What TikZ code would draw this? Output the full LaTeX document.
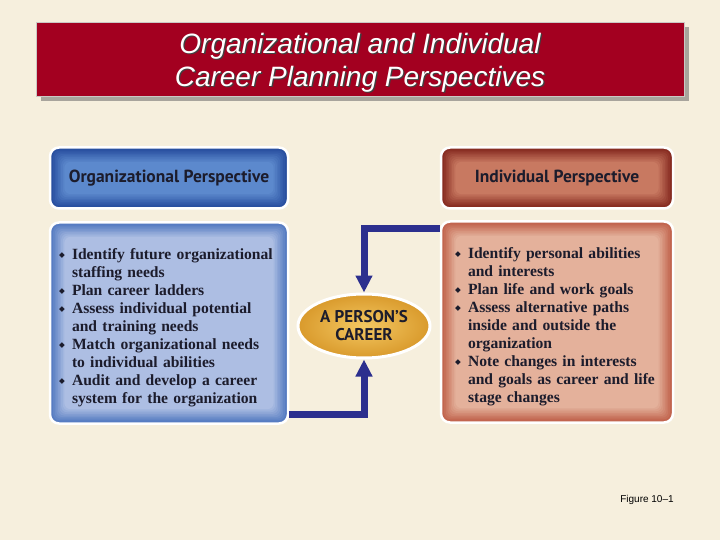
\documentclass[tikz,border=0pt]{standalone}
\usepackage{fontspec}
\setmainfont{Liberation Serif}
\setsansfont{Liberation Sans}
\newfontfamily\headfont{PT Sans}
\newfontfamily\symfont{DejaVu Sans}
\usetikzlibrary{shapes.geometric,arrows.meta,calc,shadows}

\definecolor{paper}{HTML}{F6EFDD}
\definecolor{titlered}{HTML}{A30020}
\definecolor{titleshade}{HTML}{A8A49C}
\definecolor{orgdark}{HTML}{23499B}
\definecolor{orglight}{HTML}{5D8ACD}
\definecolor{orgedge}{HTML}{4C74BE}
\definecolor{orgfill}{HTML}{AEBFE3}
\definecolor{inddark}{HTML}{80231A}
\definecolor{indlight}{HTML}{C97A62}
\definecolor{indedge}{HTML}{BE5C45}
\definecolor{indfill}{HTML}{E4B29C}
\definecolor{flowblue}{HTML}{2C2F8E}
\definecolor{goldin}{HTML}{F4C862}
\definecolor{goldout}{HTML}{D99A2C}
\definecolor{inktext}{HTML}{1C1C2C}

\newcommand{\pbul}{\makebox[13pt][l]{\raisebox{1.8pt}{\symfont\fontsize{7.5}{7.5}\selectfont ◆}}}
\newcommand{\pgap}{\hspace*{13pt}}
\newcommand{\headline}{Organizational and Individual\\Career Planning Perspectives}

\tikzset{
  glow/.style 2 args={fill=#1, draw=white, line width=2.5pt, rounded corners=9pt,
    path picture={
      \foreach \k [evaluate=\k as \p using int(\k*11)] in {1,...,9}
        \fill[#2!\p!#1, rounded corners=6pt]
          ($(path picture bounding box.north west)+(\k*1.6,\k*1.6)$)
          rectangle ($(path picture bounding box.south east)+(-\k*1.6,-\k*1.6)$);
    }},
  headbox/.style={minimum height=61pt, inner sep=0pt,
    font=\headfont\bfseries\fontsize{17.5}{20}\selectfont, text=inktext},
  bodybox/.style={minimum height=201pt, align=left,
    font=\bfseries\fontsize{15.6}{18}\selectfont, text=inktext},
  career/.style={ellipse, minimum width=132pt, minimum height=64pt, inner sep=0pt,
    draw=white, line width=3pt, inner color=goldin, outer color=goldout,
    align=center, font=\headfont\bfseries\fontsize{17}{18}\selectfont, text=inktext},
  careerflow/.style={draw=flowblue, line width=7pt,
    -{Triangle[length=17pt,width=16pt]}},
  titlebox/.style={fill=titlered, draw=titleshade!60, line width=0.8pt,
    minimum width=648pt, minimum height=74pt,
    general shadow={fill=titleshade, shadow xshift=5pt, shadow yshift=-5pt}},
  titletext/.style={align=center, font=\sffamily\itshape\fontsize{28}{33}\selectfont}
}

\begin{document}
\begin{tikzpicture}[x=1pt,y=-1pt]
%\draw[help lines] (0,0) grid[step=20] (720,540);
\useasboundingbox (0,0) rectangle (720,540);
\fill[paper] (0,0) rectangle (720,540);

% title bar
\node[titlebox] (title) at (360,59) {};
\node[titletext, text=black!75] (titleshadow) at (361.3,63.8) {\headline};
\node[titletext, text=white] (titlelabel) at (360,62.5) {\headline};

% two perspectives
\node[headbox, glow={orgdark}{orglight}, minimum width=238pt] (orghead) at (169,178) {Organizational Perspective};
\node[headbox, glow={inddark}{indlight}, minimum width=232pt] (indhead) at (557,178) {Individual Perspective};

\node[bodybox, glow={orgedge}{orgfill}, minimum width=238pt, inner xsep=9pt, text width=220pt] (orgbody) at (169,323)
  {\rule{0pt}{20pt}\pbul Identify future organizational\\
   \pgap staffing needs\\
   \pbul Plan career ladders\\
   \pbul Assess individual potential\\
   \pgap and training needs\\
   \pbul Match organizational needs\\
   \pgap to individual abilities\\
   \pbul Audit and develop a career\\
   \pgap system for the organization};
\node[bodybox, glow={indedge}{indfill}, minimum width=232pt, inner xsep=14pt, text width=204pt] (indbody) at (557,322)
  {\rule{0pt}{20pt}\pbul Identify personal abilities\\
   \pgap and interests\\
   \pbul Plan life and work goals\\
   \pbul Assess alternative paths\\
   \pgap inside and outside the\\
   \pgap organization\\
   \pbul Note changes in interests\\
   \pgap and goals as career and life\\
   \pgap stage changes};

\node[career] (career) at (364,326) {A PERSON’S\\CAREER};

\draw[careerflow] ($(indbody.north west)+(0,8)$) -| (career.north);
\draw[careerflow] ($(orgbody.south east)+(0,-10)$) -| (career.south);

\node[font=\sffamily\fontsize{10}{12}\selectfont] (fignum) at (647,500) {Figure 10–1};
\end{tikzpicture}
\end{document}
